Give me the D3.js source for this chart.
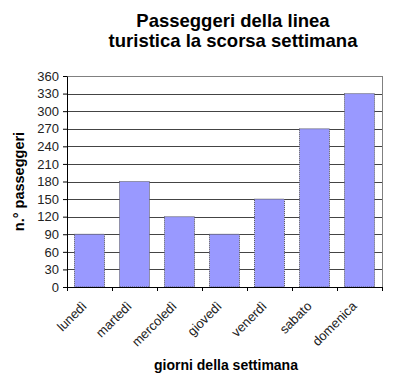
<!DOCTYPE html>
<html>
<head>
<meta charset="utf-8">
<script src="https://cdn.jsdelivr.net/npm/d3@7"></script>
<style>
  body { margin: 0; background: #fff; }
  text { font-family: Arial, "Liberation Sans", sans-serif; }
</style>
</head>
<body>
<div id="chart"></div>
<script>
// data
var giorni = ["lunedì", "martedì", "mercoledì", "giovedì", "venerdì", "sabato", "domenica"];
var passeggeri = [90, 180, 120, 90, 150, 270, 330];
var yTicks = [0, 30, 60, 90, 120, 150, 180, 210, 240, 270, 300, 330, 360];

var width = 400, height = 386;
var margin = {top: 76, right: 18, bottom: 99, left: 67};
var w = width - margin.left - margin.right;
var h = height - margin.top - margin.bottom;

var svg = d3.select("#chart").append("svg")
    .attr("width", width)
    .attr("height", height);

// title
var title = svg.append("text")
    .attr("x", 233)
    .attr("text-anchor", "middle")
    .style("font-size", "18.5px")
    .style("font-weight", "bold");
title.append("tspan").attr("x", 233).attr("y", 27).text("Passeggeri della linea");
title.append("tspan").attr("x", 233).attr("y", 47).text("turistica la scorsa settimana");

var g = svg.append("g").attr("transform", "translate(" + margin.left + "," + margin.top + ")");

var x = d3.scaleBand().domain(giorni).range([0, w]).paddingInner(1 / 3).paddingOuter(1 / 6);
var y = d3.scaleLinear().domain([0, 360]).range([h, 0]);

// gridlines
g.selectAll(".grid")
    .data(yTicks.slice(1))
    .enter().append("line")
    .attr("class", "grid")
    .attr("x1", 0).attr("x2", w)
    .attr("y1", function(d) { return Math.round(y(d)) + 0.5; })
    .attr("y2", function(d) { return Math.round(y(d)) + 0.5; })
    .attr("stroke", function(d) { return d == 360 ? "#808080" : "#444"; })
    .attr("stroke-width", 1);

// right border of plot area
g.append("line")
    .attr("x1", w + 0.5).attr("x2", w + 0.5)
    .attr("y1", 0).attr("y2", h)
    .attr("stroke", "#808080");

// bars
g.selectAll(".bar")
    .data(passeggeri)
    .enter().append("rect")
    .attr("class", "bar")
    .attr("x", function(d, i) { return x(giorni[i]); })
    .attr("y", function(d) { return y(d); })
    .attr("width", x.bandwidth())
    .attr("height", function(d) { return h - y(d); })
    .attr("fill", "#9999ff")
    .attr("stroke", "#555")
    .attr("stroke-width", 1)
    .attr("stroke-dasharray", "1,1");

// y axis
var yAxis = g.append("g")
    .call(d3.axisLeft(y).tickValues(yTicks).tickSize(4).tickPadding(4).tickSizeOuter(0));
yAxis.select(".domain").attr("stroke", "#000");
yAxis.selectAll("text")
    .style("font-size", "13px")
    .attr("fill", "#222");

// x axis, ticks on the category boundaries
var xAxis = g.append("g").attr("transform", "translate(0," + h + ")");
xAxis.append("line")
    .attr("x1", -4).attr("x2", w)
    .attr("y1", 0.5).attr("y2", 0.5)
    .attr("stroke", "#000");
var step = w / giorni.length;
xAxis.selectAll(".xtick")
    .data(d3.range(giorni.length + 1))
    .enter().append("line")
    .attr("x1", function(i) { return Math.round(i * step) + 0.5; })
    .attr("x2", function(i) { return Math.round(i * step) + 0.5; })
    .attr("y1", 0).attr("y2", 4)
    .attr("stroke", "#000");
xAxis.selectAll(".xlabel")
    .data(giorni)
    .enter().append("text")
    .attr("text-anchor", "end")
    .attr("transform", function(d) {
        return "translate(" + (x(d) + x.bandwidth() / 2 - 2) + ",20) rotate(-45)";
    })
    .style("font-size", "13px")
    .attr("fill", "#222")
    .text(function(d) { return d; });

// axis titles
svg.append("text")
    .attr("x", 226).attr("y", 370)
    .attr("text-anchor", "middle")
    .style("font-size", "14px")
    .style("font-weight", "bold")
    .text("giorni della settimana");

svg.append("text")
    .attr("transform", "translate(24," + (margin.top + h / 2) + ") rotate(-90)")
    .attr("text-anchor", "middle")
    .style("font-size", "14.5px")
    .style("font-weight", "bold")
    .text("n.° passeggeri");
</script>
</body>
</html>
